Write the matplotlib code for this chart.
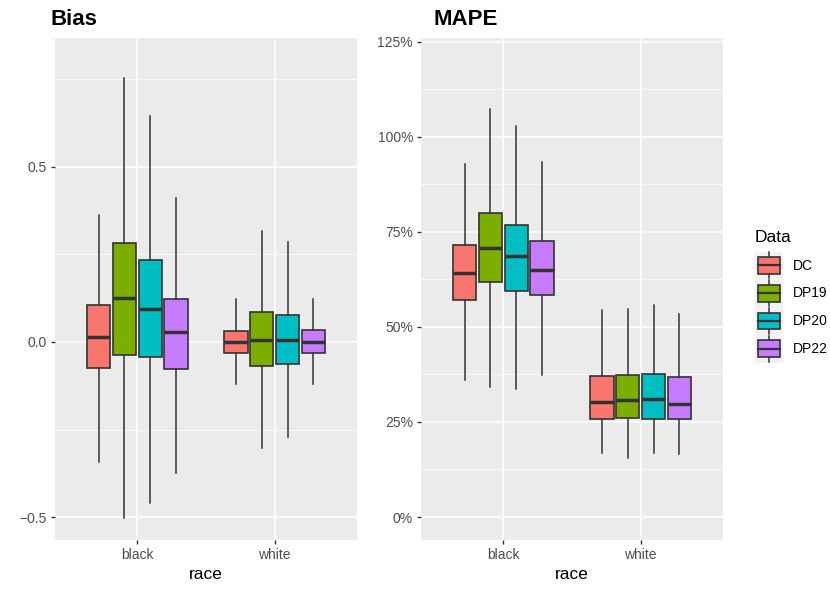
import numpy as np
import matplotlib
matplotlib.use("Agg")
import matplotlib.pyplot as plt
from matplotlib.patches import Patch, Rectangle
from matplotlib.lines import Line2D
from matplotlib.legend_handler import HandlerBase
from matplotlib.ticker import PercentFormatter, MultipleLocator

plt.rcParams["font.family"] = ["Liberation Sans", "DejaVu Sans"]

# data (rows = race group, columns = data source)
races = ["black", "white"]
sources = ["DC", "DP19", "DP20", "DP22"]
colors = ["#F8766D", "#7CAE00", "#00BFC4", "#C77CFF"]

bias_whishi = [[0.362, 0.752, 0.644, 0.410], [0.122, 0.316, 0.285, 0.122]]
bias_q3 = [[0.105, 0.282, 0.234, 0.122], [0.031, 0.085, 0.077, 0.034]]
bias_med = [[0.014, 0.125, 0.094, 0.028], [0.000, 0.006, 0.006, 0.001]]
bias_q1 = [[-0.074, -0.037, -0.043, -0.077], [-0.031, -0.068, -0.063, -0.031]]
bias_whislo = [[-0.342, -0.502, -0.459, -0.373], [-0.120, -0.302, -0.270, -0.120]]

mape_whishi = [[0.929, 1.073, 1.029, 0.935], [0.545, 0.546, 0.557, 0.535]]
mape_q3 = [[0.716, 0.801, 0.769, 0.725], [0.371, 0.373, 0.376, 0.369]]
mape_med = [[0.642, 0.709, 0.686, 0.650], [0.303, 0.308, 0.310, 0.298]]
mape_q1 = [[0.572, 0.618, 0.595, 0.584], [0.257, 0.260, 0.259, 0.259]]
mape_whislo = [[0.360, 0.343, 0.337, 0.374], [0.168, 0.156, 0.168, 0.166]]

bias_ticks = [-0.5, 0.0, 0.5]
bias_ticklabels = ["\u22120.5", "0.0", "0.5"]
mape_ticks = [0.0, 0.25, 0.5, 0.75, 1.0, 1.25]

DARK = "#333333"
PANEL = "#EBEBEB"


class BoxKeyHandler(HandlerBase):
    # ggplot-like boxplot legend key
    def create_artists(self, legend, orig_handle, xdescent, ydescent,
                       width, height, fontsize, trans):
        x0, y0 = -xdescent, -ydescent
        cx, cy = x0 + width / 2, y0 + height / 2
        bg = Rectangle((x0, y0), width, height, facecolor="#F2F2F2",
                       edgecolor="none", transform=trans)
        whisk = Line2D([cx, cx], [y0 + 0.03 * height, y0 + 0.97 * height],
                       color=DARK, lw=1.1, transform=trans)
        box = Rectangle((x0 + 0.1 * width, y0 + 0.2 * height), 0.8 * width,
                        0.6 * height, facecolor=orig_handle.get_facecolor(),
                        edgecolor=DARK, lw=1.2, transform=trans)
        med = Line2D([x0 + 0.1 * width, x0 + 0.9 * width], [cy, cy],
                     color=DARK, lw=1.6, transform=trans)
        return [bg, whisk, box, med]


def draw_panel(ax, whislo, q1, med, q3, whishi):
    step = 0.75 / len(sources)
    offsets = (np.arange(len(sources)) - (len(sources) - 1) / 2) * step
    for g in range(len(races)):
        for s in range(len(sources)):
            stats = [dict(whislo=whislo[g][s], q1=q1[g][s], med=med[g][s],
                          q3=q3[g][s], whishi=whishi[g][s], fliers=[])]
            ax.bxp(stats, positions=[g + 1 + offsets[s]], widths=step * 0.9,
                   patch_artist=True, showfliers=False, showcaps=False,
                   boxprops=dict(facecolor=colors[s], edgecolor=DARK, linewidth=1.2),
                   medianprops=dict(color=DARK, linewidth=2.5, solid_capstyle="butt"),
                   whiskerprops=dict(color=DARK, linewidth=1.1),
                   manage_ticks=False)

    ax.set_facecolor(PANEL)
    for sp in ax.spines.values():
        sp.set_visible(False)
    ax.set_axisbelow(True)
    ax.set_xlim(0.4, 2.6)
    ax.set_xticks(range(1, len(races) + 1))
    ax.set_xticklabels(races)
    ax.grid(True, which="major", color="white", linewidth=1.1)
    ax.grid(True, which="minor", axis="y", color="white", linewidth=0.55)
    ax.tick_params(which="major", length=3.2, width=1.0, color=DARK,
                   labelcolor="#4D4D4D", labelsize=10, pad=2.5)
    ax.tick_params(which="minor", length=0)
    ax.set_xlabel("race", fontsize=12.5, color="black", labelpad=4)


fig = plt.figure(figsize=(8.3, 5.93), dpi=100)
ax1 = fig.add_axes([55 / 830, 53 / 593, 302 / 830, 502.3 / 593])
ax2 = fig.add_axes([421 / 830, 53 / 593, 302 / 830, 502.3 / 593])

draw_panel(ax1, bias_whislo, bias_q1, bias_med, bias_q3, bias_whishi)
ax1.set_ylim(-0.565, 0.868)
ax1.set_yticks(bias_ticks)
ax1.set_yticklabels(bias_ticklabels)
ax1.yaxis.set_minor_locator(MultipleLocator(0.25))

draw_panel(ax2, mape_whislo, mape_q1, mape_med, mape_q3, mape_whishi)
ax2.set_ylim(-0.0605, 1.261)
ax2.set_yticks(mape_ticks)
ax2.yaxis.set_major_formatter(PercentFormatter(1.0, decimals=0))
ax2.yaxis.set_minor_locator(MultipleLocator(0.125))

fig.text(50 / 830, 1 - 25 / 593, "Bias", fontsize=16, fontweight="bold",
         va="baseline", ha="left")
fig.text(433 / 830, 1 - 25 / 593, "MAPE", fontsize=16, fontweight="bold",
         va="baseline", ha="left")

fig.text(755 / 830, 1 - 242 / 593, "Data", fontsize=12.5, va="baseline", ha="left")
handles = [Patch(facecolor=c) for c in colors]
fig.legend(handles, sources, handler_map={Patch: BoxKeyHandler()},
           loc="upper left", bbox_to_anchor=(755 / 830, 1 - 251.5 / 593),
           frameon=False, fontsize=10, borderpad=0, borderaxespad=0,
           labelspacing=0, handlelength=2.0, handleheight=2.7,
           handletextpad=0.72)

fig.savefig("out.png", dpi=100)
